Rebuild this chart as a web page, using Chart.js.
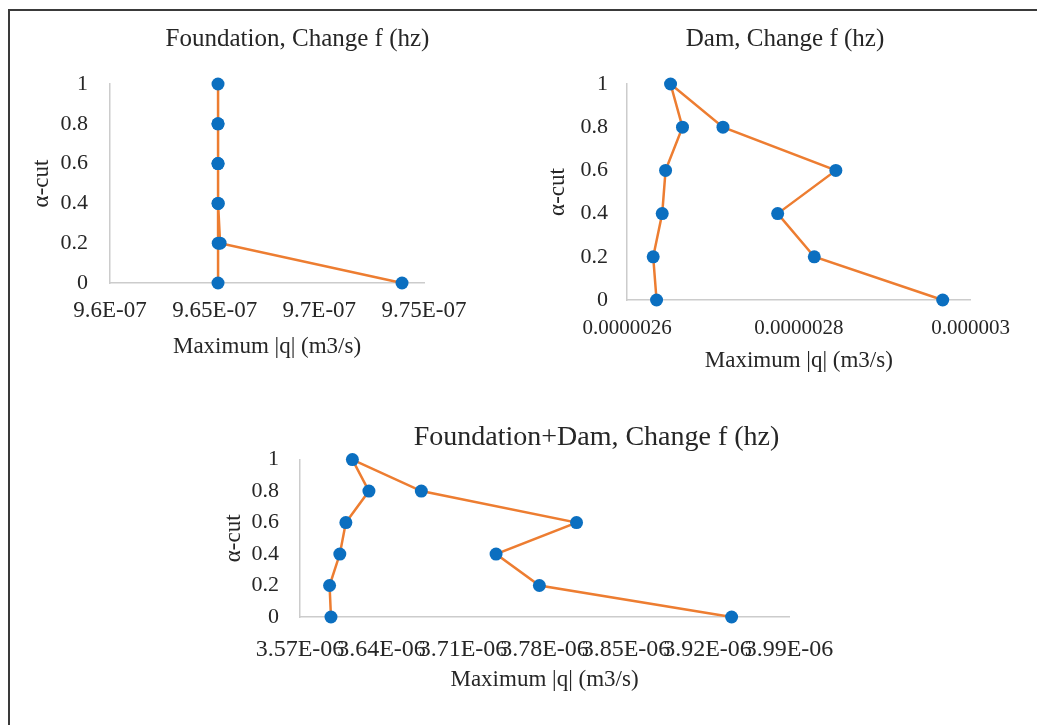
<!DOCTYPE html>
<html>
<head>
<meta charset="utf-8">
<title>Maximum |q| - Change f (hz)</title>
<script src="https://cdn.jsdelivr.net/npm/chart.js@4.4.1/dist/chart.umd.min.js"></script>
<style>
    html, body { margin: 0; padding: 0; background: #fff; overflow: hidden; }
    body { width: 1037px; height: 725px; position: relative; }
    /* sayfanın sol ve üst çerçevesi */
    #frame {
        position: absolute; left: 8px; top: 9px; width: 1100px; height: 800px;
        border-left: 2px solid #3a3a3a; border-top: 2px solid #3a3a3a;
    }
    canvas { position: absolute; }
</style>
</head>
<body>
<div id="frame"></div>
<canvas id="foundationChart" width="567" height="361" style="left:0px;top:0px"></canvas>
<canvas id="damChart" width="496" height="375" style="left:530px;top:0px"></canvas>
<canvas id="foundationDamChart" width="763" height="294" style="left:210px;top:400px"></canvas>

<script>
// α-cut seviyeleri: sol dal 0 -> 1, sağ dal 1 -> 0
const alphaCut = [0, 0.2, 0.4, 0.6, 0.8, 1, 0.8, 0.6, 0.4, 0.2, 0];

// Maximum |q| (m3/s) değerleri
const foundationQ = [9.6516e-7, 9.6517e-7, 9.6516e-7, 9.6516e-7, 9.6516e-7, 9.6516e-7, 9.6516e-7, 9.6516e-7, 9.6517e-7, 9.6526e-7, 9.7395e-7];
const damQ = [2.6344e-6, 2.6305e-6, 2.6410e-6, 2.6449e-6, 2.6646e-6, 2.6507e-6, 2.7117e-6, 2.8431e-6, 2.7754e-6, 2.8180e-6, 2.9675e-6];
const foundationDamQ = [3.5966e-6, 3.5954e-6, 3.6042e-6, 3.6094e-6, 3.6292e-6, 3.6150e-6, 3.6742e-6, 3.8075e-6, 3.7384e-6, 3.7756e-6, 3.9407e-6];

// Eksen tick değerleri ve etiketleri
const alphaTicks = [0, 0.2, 0.4, 0.6, 0.8, 1];
const alphaTickLabels = ['0', '0.2', '0.4', '0.6', '0.8', '1'];
const foundationTicks = [9.6e-7, 9.65e-7, 9.7e-7, 9.75e-7];
const foundationTickLabels = ['9.6E-07', '9.65E-07', '9.7E-07', '9.75E-07'];
const damTicks = [2.6e-6, 2.8e-6, 3.0e-6];
const damTickLabels = ['0.0000026', '0.0000028', '0.000003'];
const foundationDamTicks = [3.57e-6, 3.64e-6, 3.71e-6, 3.78e-6, 3.85e-6, 3.92e-6, 3.99e-6];
const foundationDamTickLabels = ['3.57E-06', '3.64E-06', '3.71E-06', '3.78E-06', '3.85E-06', '3.92E-06', '3.99E-06'];

const SERIF = '"Liberation Serif", "Times New Roman", serif';
const TEXT = '#262626';
const AXIS = '#cccccc';
const LINE = '#ED7D31';
const DOT = '#0B6FC0';

function buildChart(canvasId, o) {
    const points = o.values.map((q, i) => ({ x: q, y: alphaCut[i] }));

    return new Chart(document.getElementById(canvasId), {
        type: 'scatter',
        data: {
            datasets: [{
                data: points,
                showLine: true,
                borderColor: LINE,
                borderWidth: 2.5,
                pointBackgroundColor: DOT,
                pointBorderWidth: 0,
                pointRadius: 6.5,
                pointHoverRadius: 6.5,
                clip: false
            }]
        },
        options: {
            responsive: false,
            animation: false,
            layout: { padding: { left: o.padLeft, right: 0, top: 0, bottom: 0 } },
            plugins: {
                legend: { display: false },
                tooltip: { enabled: false },
                title: {
                    display: true,
                    text: o.title,
                    color: TEXT,
                    font: { family: SERIF, size: o.titleSize, weight: 'normal' },
                    padding: { top: o.titlePadTop, bottom: o.titlePadBottom }
                }
            },
            scales: {
                x: {
                    type: 'linear',
                    position: 'bottom',
                    min: o.xTicks[0],
                    max: o.xTicks[o.xTicks.length - 1],
                    afterBuildTicks: s => { s.ticks = o.xTicks.map(v => ({ value: v })); },
                    afterFit: s => { s.height = o.xAxisHeight; },
                    grid: { display: false, drawTicks: false },
                    border: { color: AXIS, width: 1.5 },
                    ticks: {
                        autoSkip: false, maxRotation: 0, minRotation: 0,
                        padding: o.xTickPad, color: TEXT,
                        font: { family: SERIF, size: o.xTickSize },
                        callback: (v, i) => o.xLabels[i]
                    },
                    title: {
                        display: true, text: 'Maximum |q| (m3/s)', color: TEXT,
                        font: { family: SERIF, size: 23 }, padding: 0
                    }
                },
                y: {
                    type: 'linear',
                    min: 0,
                    max: 1,
                    afterBuildTicks: s => { s.ticks = alphaTicks.map(v => ({ value: v })); },
                    afterFit: s => { s.width = o.yAxisWidth; },
                    grid: { display: false, drawTicks: false },
                    border: { color: AXIS, width: 1.5 },
                    ticks: {
                        padding: o.yTickPad, color: TEXT,
                        font: { family: SERIF, size: 22 },
                        callback: (v, i) => alphaTickLabels[i]
                    },
                    title: {
                        display: true, text: 'α-cut', color: TEXT,
                        font: { family: SERIF, size: 23 }, padding: 0
                    }
                },
                // sağ boşluk: başlığı Excel'deki gibi ortalamak için
                spacer: {
                    type: 'linear',
                    position: 'right',
                    grid: { display: false, drawTicks: false },
                    border: { display: false },
                    ticks: { display: false },
                    afterFit: s => { s.width = o.spacer; }
                }
            }
        }
    });
}

buildChart('foundationChart', {
    title: 'Foundation, Change f (hz)', titleSize: 25, titlePadTop: 24, titlePadBottom: 30,
    values: foundationQ, xTicks: foundationTicks, xLabels: foundationTickLabels, xTickSize: 23,
    padLeft: 28, yAxisWidth: 82, yTickPad: 22, xTickPad: 14, xAxisHeight: 78, spacer: 143
});

buildChart('damChart', {
    title: 'Dam, Change f (hz)', titleSize: 25, titlePadTop: 24, titlePadBottom: 30,
    values: damQ, xTicks: damTicks, xLabels: damTickLabels, xTickSize: 21,
    padLeft: 14, yAxisWidth: 83, yTickPad: 19, xTickPad: 16, xAxisHeight: 75, spacer: 54
});

buildChart('foundationDamChart', {
    title: 'Foundation+Dam, Change f (hz)', titleSize: 28, titlePadTop: 21, titlePadBottom: 5,
    values: foundationDamQ, xTicks: foundationDamTicks, xLabels: foundationDamTickLabels, xTickSize: 24,
    padLeft: 10, yAxisWidth: 80, yTickPad: 21, xTickPad: 18, xAxisHeight: 77, spacer: 184
});
</script>
</body>
</html>
